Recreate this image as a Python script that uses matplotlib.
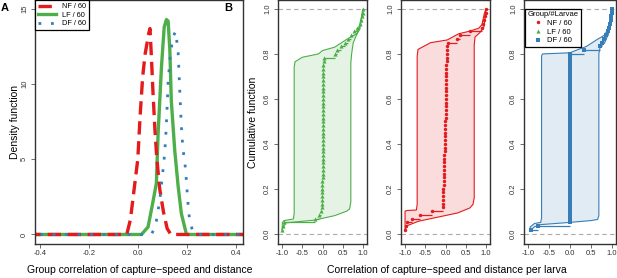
import numpy as np
import matplotlib
matplotlib.use('Agg')
import matplotlib.pyplot as plt
from matplotlib.lines import Line2D
from matplotlib.ticker import FormatStrFormatter

plt.rcParams['font.family'] = ['Liberation Sans', 'DejaVu Sans']

# ---- data ----
group_labels = ['NF / 60', 'LF / 60', 'DF / 60']
red, green, blue = '#E41A1C', '#4DAF4A', '#377EB8'

# panel A: density of group correlation
nf_dens_x = [-0.45, -0.045, -0.03, -0.015, 0.0, 0.01, 0.02, 0.03, 0.045, 0.05,
             0.056, 0.062, 0.07, 0.078, 0.09, 0.105, 0.12, 0.135, 0.45]
nf_dens_y = [0.0, 0.0, 1.0, 3.0, 5.0, 8.0, 10.5, 12.0, 13.4, 13.7,
             11.7, 9.5, 7.0, 5.0, 3.0, 1.5, 0.4, 0.0, 0.0]

lf_dens_x = [-0.45, 0.015, 0.042, 0.06, 0.076, 0.083, 0.097, 0.108, 0.117, 0.124,
             0.131, 0.137, 0.151, 0.165, 0.178, 0.199, 0.45]
lf_dens_y = [0.0, 0.0, 0.5, 2.0, 3.4, 6.7, 11.2, 13.8, 14.3, 14.2,
             12.3, 8.9, 5.6, 3.2, 1.4, 0.0, 0.0]

df_dens_x = [-0.45, 0.055, 0.065, 0.076, 0.09, 0.1, 0.11, 0.116, 0.124, 0.131,
             0.137, 0.145, 0.155, 0.165, 0.171, 0.178, 0.185, 0.192, 0.199, 0.205,
             0.212, 0.225, 0.24, 0.45]
df_dens_y = [0.0, 0.0, 0.3, 0.9, 2.3, 3.8, 5.4, 7.0, 10.1, 11.6,
             12.4, 13.2, 13.5, 12.1, 9.8, 7.2, 5.6, 4.9, 3.5, 2.1,
             0.9, 0.2, 0.0, 0.0]

# panel B: sorted per-larva correlations (60 larvae per group)
nf_corr = [-1.0, -0.98, -0.94, -0.82, -0.63, -0.34, -0.07,
           -0.06, -0.06, -0.05, -0.05, -0.05, -0.04, -0.04, -0.04, -0.04, -0.03,
           -0.03, -0.03, -0.03, -0.03, -0.02, -0.02, -0.02, -0.02, -0.02, -0.01,
           -0.01, -0.01, -0.01, 0.0, 0.0, 0.0, 0.0, 0.0, 0.0, 0.01,
           0.01, 0.01, 0.01, 0.01, 0.02, 0.02, 0.02, 0.02, 0.03, 0.03,
           0.03, 0.04, 0.04, 0.05,
           0.28, 0.35, 0.61, 0.9, 0.93, 0.95, 0.97, 0.99, 1.0]
lf_corr = [-1.0, -0.98, -0.96, -0.18, -0.09, -0.04,
           -0.02, -0.02, -0.02, -0.01, -0.01, -0.01, -0.01, -0.01, 0.0, 0.0,
           0.0, 0.0, 0.0, 0.0, 0.0, 0.0, 0.0, 0.0, 0.0, 0.0,
           0.0, 0.0, 0.0, 0.0, 0.0, 0.0, 0.01, 0.01, 0.01, 0.01,
           0.01, 0.01, 0.01, 0.01, 0.01, 0.02, 0.02, 0.02, 0.02, 0.03,
           0.03,
           0.3, 0.36, 0.45, 0.55, 0.62, 0.7, 0.78, 0.86, 0.92, 0.95, 0.97, 0.99, 1.0]
df_corr = [-0.93, -0.76,
           0.0, 0.0, 0.0, 0.0, 0.0, 0.0, 0.0, 0.0, 0.0, 0.0,
           0.0, 0.0, 0.0, 0.0, 0.0, 0.0, 0.0, 0.0, 0.0, 0.0,
           0.0, 0.0, 0.0, 0.0, 0.0, 0.0, 0.0, 0.0, 0.0, 0.0,
           0.0, 0.0, 0.0, 0.0, 0.0, 0.0, 0.0, 0.0, 0.0, 0.0,
           0.0, 0.0, 0.0, 0.0, 0.0, 0.0,
           0.33, 0.71, 0.77, 0.82, 0.87, 0.91, 0.94, 0.96, 0.98, 0.99, 1.0, 1.0]

# confidence bands (upper / lower edges)
lf_band_up_x = [-1.0, -0.99, -0.95, -0.72, -0.70, -0.70, -0.68, -0.5, -0.1, 0.0, 0.3, 0.6, 0.85, 0.92, 0.97, 1.0]
lf_band_up_y = [0.015, 0.05, 0.058, 0.065, 0.09, 0.74, 0.765, 0.785, 0.80, 0.815, 0.83, 0.865, 0.89, 0.93, 0.97, 1.0]
lf_band_lo_x = [-1.0, -0.97, -0.9, -0.2, 0.3, 0.6, 0.67, 0.70, 0.70, 0.72, 0.76, 0.83, 0.92, 0.97, 1.0]
lf_band_lo_y = [0.015, 0.03, 0.048, 0.06, 0.08, 0.1, 0.11, 0.14, 0.76, 0.80, 0.85, 0.88, 0.91, 0.96, 1.0]

nf_band_up_x = [-1.0, -1.0, -0.95, -0.72, -0.70, -0.70, -0.68, -0.37, 0.04, 0.33, 0.57, 0.82, 0.9, 0.96, 1.0]
nf_band_up_y = [0.015, 0.10, 0.103, 0.105, 0.13, 0.79, 0.82, 0.85, 0.862, 0.89, 0.90, 0.914, 0.93, 0.98, 1.0]
nf_band_lo_x = [-1.0, -0.95, -0.67, 0.3, 0.6, 0.68, 0.71, 0.71, 0.73, 0.85, 0.95, 0.98, 1.0]
nf_band_lo_y = [0.015, 0.035, 0.055, 0.092, 0.114, 0.13, 0.16, 0.84, 0.875, 0.895, 0.92, 0.96, 1.0]

df_band_up_x = [-0.97, -0.95, -0.85, -0.70, -0.68, -0.68, -0.66, 0.0, 0.2, 0.39, 0.63, 0.83, 0.91, 0.97, 1.0]
df_band_up_y = [0.012, 0.03, 0.045, 0.05, 0.07, 0.79, 0.80, 0.805, 0.82, 0.833, 0.862, 0.884, 0.914, 0.951, 1.0]
df_band_lo_x = [-0.97, -0.85, -0.7, 0.0, 0.5, 0.66, 0.69, 0.69, 0.72, 0.83, 0.92, 0.98, 1.0]
df_band_lo_y = [0.012, 0.03, 0.04, 0.05, 0.058, 0.063, 0.08, 0.80, 0.83, 0.85, 0.89, 0.95, 1.0]

W, H = 617, 278
fig = plt.figure(figsize=(W / 100, H / 100), dpi=100)


def style_axes(ax):
    for s in ax.spines.values():
        s.set_linewidth(1.0)
        s.set_color('#333333')
    ax.tick_params(length=3, width=0.6, color='#555555', labelsize=5.5,
                   pad=2, labelcolor='#333333')
    for lab in ax.get_yticklabels():
        lab.set_rotation(90)
        lab.set_va('center')


# ---- panel A ----
axA = fig.add_axes([35 / W, 1 - 243.5 / H, 208 / W, 243.5 / H])
axA.plot(lf_dens_x, lf_dens_y, color=green, lw=2.4, solid_capstyle='butt')
axA.plot(nf_dens_x, nf_dens_y, color=red, lw=2.4, linestyle=(0, (4, 2)))
axA.plot(df_dens_x, df_dens_y, color=blue, lw=2.0, linestyle=(0, (1, 3.5)))
axA.set_xlim(-0.42, 0.43)
axA.set_ylim(-0.6, 15.6)
axA.set_xticks([-0.4, -0.2, 0.0, 0.2, 0.4])
axA.xaxis.set_major_formatter(FormatStrFormatter('%.1f'))
axA.set_yticks([0, 5, 10, 15])
style_axes(axA)
handles = [Line2D([], [], color=red, lw=2.4, linestyle=(0, (4, 2))),
           Line2D([], [], color=green, lw=2.4),
           Line2D([], [], color=blue, lw=2.0, linestyle=(0, (1, 3.5)))]
legA = axA.legend(handles, group_labels, loc='upper left', fontsize=5.3,
                  borderaxespad=0, handlelength=2.4, handletextpad=0.8,
                  borderpad=0.4, labelspacing=0.2, fancybox=False, framealpha=1)
legA.get_frame().set_edgecolor('black')
legA.get_frame().set_linewidth(0.9)

# ---- panel B ----
panels = [(278, 89, lf_corr, green, '^', 3.0, lf_band_up_x, lf_band_up_y, lf_band_lo_x, lf_band_lo_y),
          (401, 89, nf_corr, red, 'o', 2.5, nf_band_up_x, nf_band_up_y, nf_band_lo_x, nf_band_lo_y),
          (524, 92, df_corr, blue, 's', 2.5, df_band_up_x, df_band_up_y, df_band_lo_x, df_band_lo_y)]
axesB = []
for left, width, corr, col, mk, ms, ux, uy, lx, ly in panels:
    ax = fig.add_axes([left / W, 1 - 243.5 / H, width / W, 243.5 / H])
    corr = np.array(corr)
    n = len(corr)
    ecdf = np.arange(1, n + 1) / n
    ax.axhline(0, color='#aaaaaa', lw=0.8, linestyle=(0, (4, 3)))
    ax.axhline(1, color='#aaaaaa', lw=0.8, linestyle=(0, (4, 3)))
    px = np.r_[ux, lx[::-1]]
    py = np.r_[uy, ly[::-1]]
    ax.fill(px, py, facecolor=col, alpha=0.15, edgecolor='none')
    ax.fill(px, py, facecolor='none', edgecolor=col, lw=0.8)
    ax.hlines(ecdf[:-1], corr[:-1], corr[1:], color=col, lw=0.9)
    ax.plot(corr, ecdf, linestyle='none', marker=mk, ms=ms, color=col,
            markeredgewidth=0)
    ax.set_xlim(-1.1, 1.1)
    ax.set_ylim(-0.044, 1.04)
    ax.set_xticks([-1.0, -0.5, 0.0, 0.5, 1.0])
    ax.xaxis.set_major_formatter(FormatStrFormatter('%.1f'))
    ax.set_yticks([0.0, 0.2, 0.4, 0.6, 0.8, 1.0])
    ax.yaxis.set_major_formatter(FormatStrFormatter('%.1f'))
    style_axes(ax)
    axesB.append(ax)

handlesB = [Line2D([], [], linestyle='none', marker='o', ms=2.5, color=red, markeredgewidth=0),
            Line2D([], [], linestyle='none', marker='^', ms=3.0, color=green, markeredgewidth=0),
            Line2D([], [], linestyle='none', marker='s', ms=2.5, color=blue, markeredgewidth=0)]
legB = axesB[2].legend(handlesB, group_labels, title='Group/#Larvae',
                       loc='upper left', bbox_to_anchor=(0.01, 0.965),
                       fontsize=5.5, title_fontsize=5.5, borderaxespad=0,
                       handlelength=1.2, handletextpad=0.5, borderpad=0.3,
                       labelspacing=0.2, fancybox=False, framealpha=1)
legB.get_frame().set_edgecolor('black')
legB.get_frame().set_linewidth(0.9)

# ---- labels ----
fig.text(15 / W, 1 - 122 / H, 'Density function', rotation=90,
         ha='center', va='center', fontsize=7.5)
fig.text(253 / W, 1 - 122 / H, 'Cumulative function', rotation=90,
         ha='center', va='center', fontsize=7.5)
fig.text(140 / W, 1 - 270 / H, 'Group correlation of capture\u2212speed and distance',
         ha='center', va='center', fontsize=7.5)
fig.text(447 / W, 1 - 270 / H, 'Correlation of capture\u2212speed and distance per larva',
         ha='center', va='center', fontsize=7.5)
fig.text(5 / W, 1 - 8 / H, 'A', fontweight='bold', fontsize=8, ha='center', va='center')
fig.text(228 / W, 1 - 8 / H, 'B', fontweight='bold', fontsize=8, ha='center', va='center')

fig.savefig('out.png', dpi=100)
plt.close()
